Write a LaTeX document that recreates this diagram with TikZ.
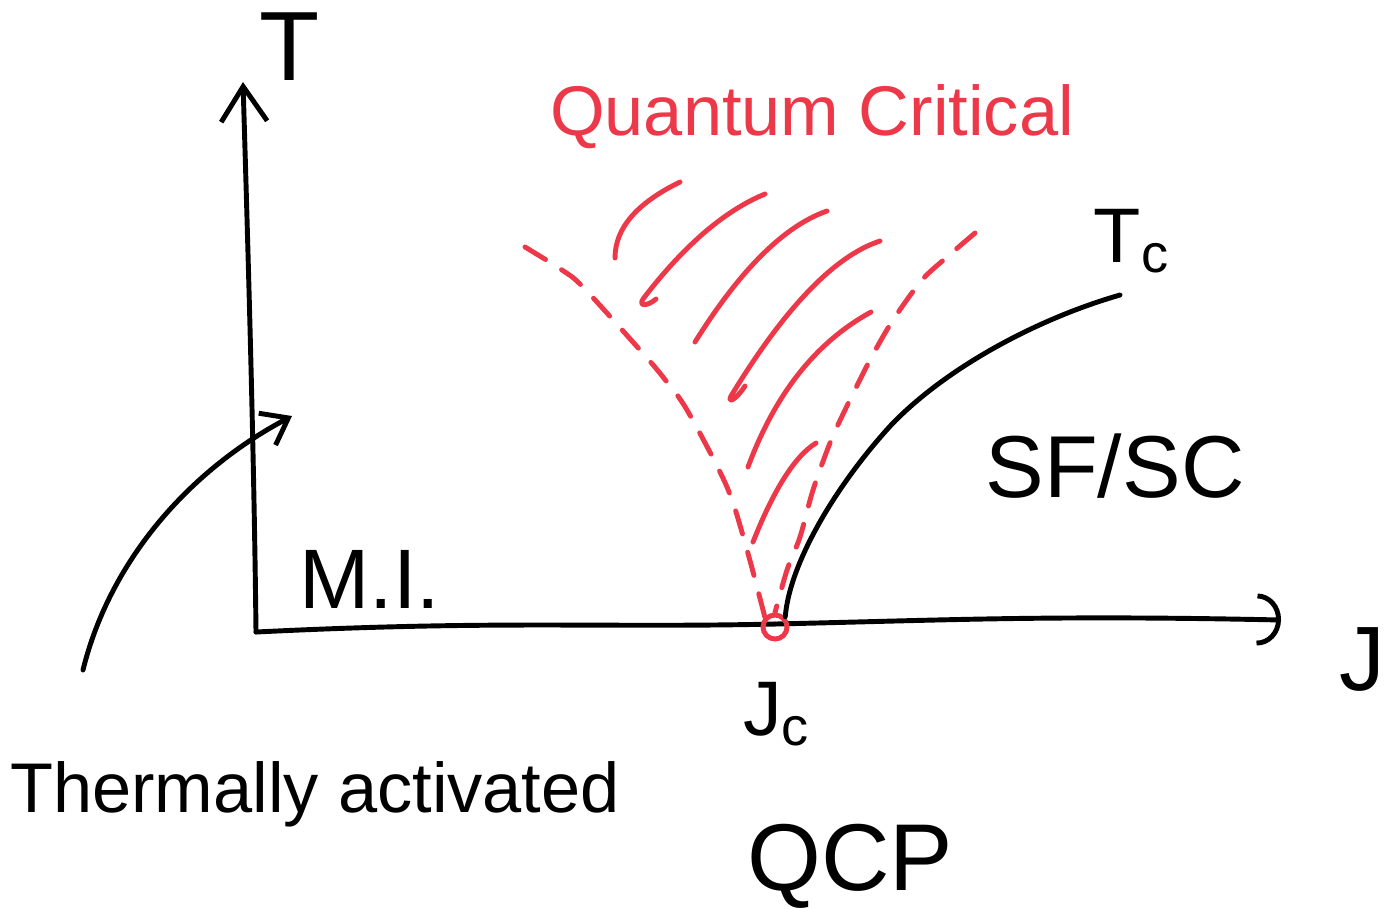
\documentclass[tikz,border=0pt]{standalone}
\usepackage{fontspec}
\setmainfont{Liberation Sans}
\usetikzlibrary{arrows.meta}
\definecolor{qcred}{RGB}{236,56,72}
\newcommand{\fs}[1]{\fontsize{#1}{#1}\selectfont}

\begin{document}
\begin{tikzpicture}[x=0.01cm,y=-0.01cm,
 pen/.style={line width=1.4pt,line cap=round,line join=round},
 redpen/.style={pen,draw=qcred},
 border/.style={redpen,dash pattern=on 2.4mm off 1.9mm},
 lbl/.style={inner sep=0pt,anchor=base},
 axT/.style={pen,-{Straight Barb[length=3.5mm,width=4.6mm]}},
 axJ/.style={pen,-{Arc Barb[length=2.4mm,width=5.2mm]}},
 ar/.style={pen,-{Straight Barb[length=2.4mm,width=3.6mm]}}]
\useasboundingbox (0,0) rectangle (1397,908);
% axes
\coordinate (O) at (256,632);
\coordinate (Ttop) at (243,82);
\coordinate (Jend) at (1281,620);
\draw[axT] (O) .. controls (254,450) and (248,250) .. (Ttop);
\draw[pen] (O) .. controls (500,620) and (600,628) .. (775,624);
\draw[axJ] (775,624) .. controls (950,620) and (1050,615) .. (Jend);
\node[lbl,font=\fs{28}] (Tlbl) at (290,80) {T};
\node[lbl,font=\fs{26}] (Jlbl) at (1362,690) {J};
% critical point
\node[circle,draw=qcred,line width=1.4pt,minimum size=2.4mm,inner sep=0pt] (qcp) at (775,627) {};
\node[lbl,font=\fs{22}] (Jc) at (777,735) {J\textsubscript{c}};
\node[lbl,font=\fs{27}] (QCP) at (850,890) {QCP};
% Tc line
\coordinate (tcend) at (1120,295);
\draw[pen] (qcp.north east) .. controls (790,560) and (840,480) .. (893,423)
 .. controls (950,365) and (1040,318) .. (tcend);
\node[lbl,font=\fs{22}] (Tc) at (1132,262) {T\textsubscript{c}};
% quantum critical fan
\draw[border] plot[smooth] coordinates {(525,247) (562,270) (583,287) (640,350) (663,377)
 (687,410) (727,487) (747,550) (qcp.north west)};
\draw[border] plot[smooth] coordinates {(975,233) (947,257) (922,280) (893,320) (870,360)
 (845,410) (830,443) (813,490) (800,537) (787,570) (qcp.north)};
\draw[redpen] (680,182) .. controls (637,203) and (615,228) .. (615,258);
\draw[redpen] (765,194) .. controls (726,210) and (685,244) .. (643,299)
 .. controls (638,307) and (648,306) .. (656,299);
\draw[redpen] (827,211) .. controls (784,226) and (740,270) .. (695,342);
\draw[redpen] (880,241) .. controls (834,256) and (784,309) .. (731,396)
 .. controls (727,404) and (736,400) .. (745,386);
\draw[redpen] (871,312) .. controls (816,342) and (775,394) .. (748,467);
\draw[redpen] (816,443) .. controls (795,456) and (774,489) .. (753,542);
\node[lbl,font=\fs{20},text=qcred] (qc) at (812,135) {Quantum Critical};
% phases
\node[lbl,font=\fs{25}] (sfsc) at (1115,497) {SF/SC};
\node[lbl,font=\fs{24}] (mi) at (370,608) {M.I.};
\node[lbl,font=\fs{20}] (thermal) at (315,812) {Thermally activated};
\coordinate (tastart) at (83,670);
\draw[ar] (tastart) .. controls (110,560) and (190,470) .. (292,416);
\end{tikzpicture}
\end{document}
